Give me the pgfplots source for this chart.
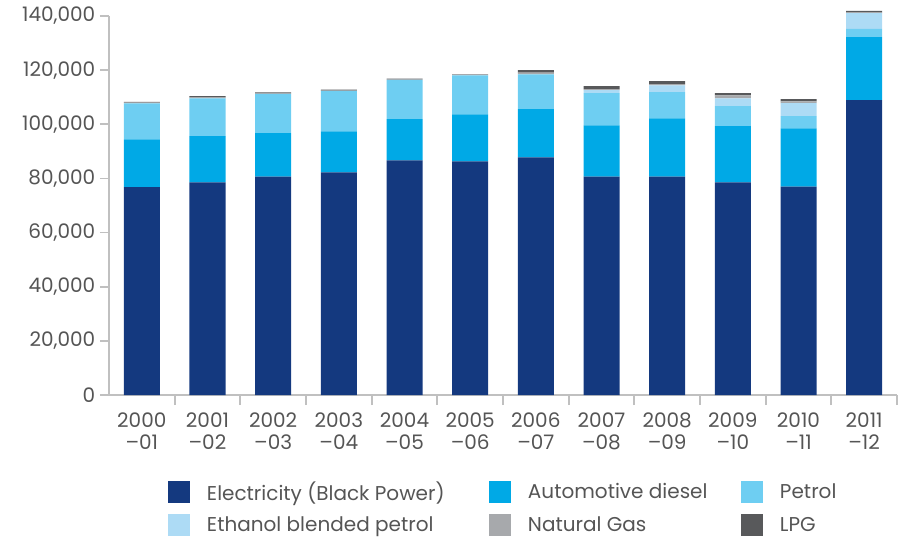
\documentclass[border=0pt]{standalone}
\usepackage{fontspec}
\setmainfont{Poppins}
\usepackage{pgfplots}
\usepackage{pgfplotstable}
\pgfplotsset{compat=1.18}

\definecolor{elec}{RGB}{20,57,127}
\definecolor{diesel}{RGB}{0,169,230}
\definecolor{petrol}{RGB}{110,206,242}
\definecolor{ethanol}{RGB}{173,219,245}
\definecolor{natgas}{RGB}{167,169,172}
\definecolor{lpg}{RGB}{88,89,91}
\definecolor{txtgray}{RGB}{85,85,85}
\definecolor{axgray}{RGB}{192,192,192}

% segment values per year (not cumulative)
\pgfplotstableread{
x elec   diesel petrol ethanol gas  lpg
0 76800  17600  13300  0       300  300
1 78500  17100  14000  0       400  400
2 80700  16000  14500  0       300  300
3 82200  15200  14900  0       100  400
4 86700  15200  14500  0       600  0
5 86300  17400  14400  0       400  0
6 87800  17800  12800  0       700  900
7 80700  18900  11900  1100    400  1100
8 80700  21500  9700   2500    400  1100
9 78500  20800  7400   2900    1100 800
10 77000 21500  4500   4800    700  800
11 108900 23300 3000   5900    300  500
}\fueldata

\begin{document}
\begin{tikzpicture}[x=1pt,y=1pt]
\useasboundingbox (-81.75,-108) rectangle (595.5,296.25);
\begin{axis}[
  at={(0,0)}, anchor=south west,
  scale only axis,
  width=591pt, height=284.25pt,
  xmin=-0.5, xmax=11.5,
  ymin=0, ymax=140000,
  clip=false,
  ybar stacked,
  bar width=27pt,
  axis x line=bottom, axis y line=left,
  axis line style={-, draw=axgray, line width=1.3pt},
  tick align=outside,
  major tick length=6.75pt,
  minor tick length=7.5pt,
  tick style={draw=axgray, line width=1.3pt},
  xtick={0,...,11},
  major x tick style={draw=none},
  minor xtick={0.5,1.5,...,11.5},
  xticklabels={{2000\\--01},{2001\\--02},{2002\\--03},{2003\\--04},{2004\\--05},{2005\\--06},{2006\\--07},{2007\\--08},{2008\\--09},{2009\\--10},{2010\\--11},{2011\\--12}},
  xticklabel style={align=center, font=\fontsize{15}{16.5}\selectfont, text=txtgray, yshift=-3pt},
  ytick={0,20000,...,140000},
  scaled y ticks=false,
  /pgf/number format/fixed,
  /pgf/number format/1000 sep={,},
  /pgf/number format/assume math mode=true,
  yticklabel style={font=\fontsize{15}{16.5}\selectfont, text=txtgray},
  legend columns=3,
  legend style={at={(0,0)}, anchor=north west, xshift=44.25pt, yshift=-64.5pt,
    draw=none, fill=none, inner sep=0pt, outer sep=0pt,
    font=\fontsize{15}{16}\selectfont, text=txtgray,
    cells={anchor=west}, nodes={inner sep=0pt},
    row sep=8.25pt,
    /tikz/every odd column/.append style={column sep=12.75pt}},
  legend image code/.code={\fill[#1,draw=none] (0pt,-8.25pt) rectangle (16.5pt,8.25pt);},
]
\addplot[fill=elec, draw=none] table[x=x, y=elec] {\fueldata};
\addlegendentry{\makebox[211.5pt][l]{Electricity (Black Power)}}
\addplot[fill=diesel, draw=none] table[x=x, y=diesel] {\fueldata};
\addlegendentry{\makebox[159.75pt][l]{Automotive diesel}}
\addplot[fill=petrol, draw=none] table[x=x, y=petrol] {\fueldata};
\addlegendentry{Petrol}
\addplot[fill=ethanol, draw=none] table[x=x, y=ethanol] {\fueldata};
\addlegendentry{\makebox[211.5pt][l]{Ethanol blended petrol}}
\addplot[fill=natgas, draw=none] table[x=x, y=gas] {\fueldata};
\addlegendentry{\makebox[159.75pt][l]{Natural Gas}}
\addplot[fill=lpg, draw=none] table[x=x, y=lpg] {\fueldata};
\addlegendentry{LPG}
\end{axis}
\end{tikzpicture}
\end{document}
